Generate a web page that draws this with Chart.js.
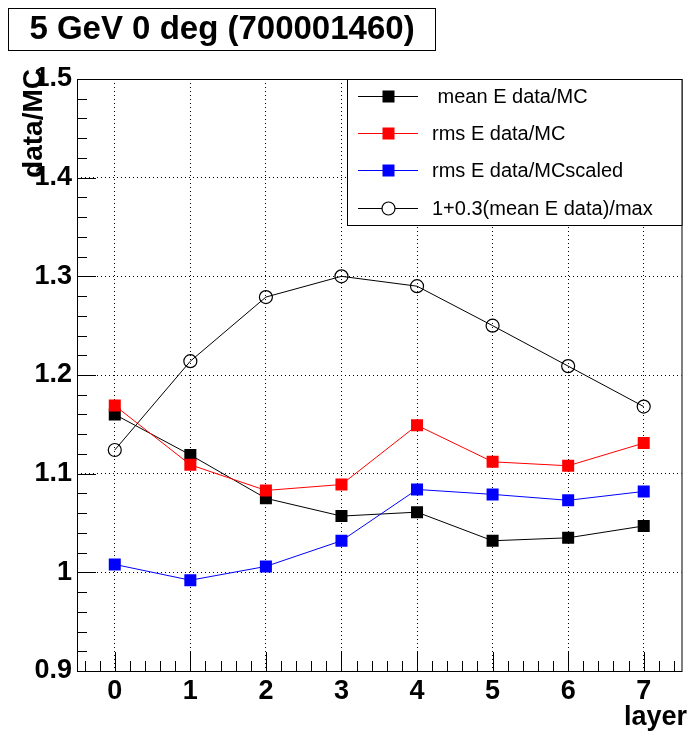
<!DOCTYPE html>
<html>
<head>
<meta charset="utf-8">
<title>5 GeV 0 deg (700001460)</title>
<script src="https://cdn.jsdelivr.net/npm/chart.js@4/dist/chart.umd.min.js"></script>
<style>
  html, body { margin: 0; padding: 0; background: #fff; }
  #plot { display: block; }
</style>
</head>
<body>
<canvas id="plot" width="690" height="731"></canvas>
<script>
'use strict';

/* ── Data ── */
const layers      = [0, 1, 2, 3, 4, 5, 6, 7];
const meanRatio   = [1.160, 1.119, 1.075, 1.057, 1.061, 1.032, 1.035, 1.047];
const rmsRatio    = [1.169, 1.109, 1.083, 1.089, 1.149, 1.112, 1.108, 1.131];
const rmsScaled   = [1.008, 0.992, 1.006, 1.032, 1.084, 1.079, 1.073, 1.082];
const meanNorm    = [1.124, 1.214, 1.279, 1.300, 1.290, 1.250, 1.209, 1.168];
const seriesNames = [' mean E data/MC', 'rms E data/MC', 'rms E data/MCscaled', '1+0.3(mean E data)/max'];
const yTickLabels = ['0.9', '1', '1.1', '1.2', '1.3', '1.4', '1.5'];

const FONT = '"Liberation Sans", Arial, Helvetica, sans-serif';

const pts = vals => layers.map((x, i) => ({ x, y: vals[i] }));

function squareSeries(label, vals, color, order) {
  return {
    label, data: pts(vals), order,
    borderColor: color, borderWidth: 1,
    pointStyle: 'rect', pointRadius: 8.5, pointBorderWidth: 0,
    pointBackgroundColor: color, pointBorderColor: color,
    marker: 'square'
  };
}

const datasets = [
  squareSeries(seriesNames[0], meanRatio, '#000000', 4),
  squareSeries(seriesNames[1], rmsRatio, '#ff0000', 3),
  squareSeries(seriesNames[2], rmsScaled, '#0000ff', 2),
  {
    label: seriesNames[3], data: pts(meanNorm), order: 1,
    borderColor: '#000000', borderWidth: 1,
    pointStyle: 'circle', pointRadius: 6.5, pointBorderWidth: 1.2,
    pointBackgroundColor: 'rgba(0,0,0,0)', pointBorderColor: '#000000',
    marker: 'circle'
  }
];

/* ── ROOT-style frame, inner ticks, titles, legend ── */
function drawMarker(ctx, ds, x, y) {
  ctx.save();
  if (ds.marker === 'square') {
    ctx.fillStyle = ds.pointBackgroundColor;
    ctx.fillRect(x - 6, y - 6, 12, 12);
  } else {
    ctx.strokeStyle = ds.pointBorderColor;
    ctx.lineWidth = 1.2;
    ctx.beginPath();
    ctx.arc(x, y, 6.5, 0, Math.PI * 2);
    ctx.fillStyle = '#fff';
    ctx.fill();
    ctx.stroke();
  }
  ctx.restore();
}

const rootDecor = {
  id: 'rootDecor',
  beforeDatasetsDraw(chart) {
    const { ctx, chartArea: a, scales: { x, y } } = chart;
    ctx.save();
    ctx.strokeStyle = '#000';
    ctx.lineWidth = 1;
    ctx.beginPath();
    // x ticks: every 0.2, major at integers
    for (let k = -2; k <= 37; k++) {
      const v = k / 5;
      const px = Math.round(x.getPixelForValue(v)) + 0.5;
      const len = k % 5 === 0 ? 19 : 10;
      ctx.moveTo(px, a.bottom);
      ctx.lineTo(px, a.bottom - len);
    }
    // y ticks: every 0.02, major at 0.1
    for (let k = 45; k <= 75; k++) {
      const v = k / 50;
      const py = Math.round(y.getPixelForValue(v)) + 0.5;
      const len = k % 5 === 0 ? 19 : 10;
      ctx.moveTo(a.left, py);
      ctx.lineTo(a.left + len, py);
    }
    ctx.stroke();
    ctx.restore();
  },
  afterDraw(chart) {
    const { ctx, chartArea: a } = chart;
    ctx.save();
    // frame
    ctx.strokeStyle = '#000';
    ctx.lineWidth = 1;
    ctx.strokeRect(a.left + 0.5, a.top + 0.5, a.right - a.left, a.bottom - a.top);

    // legend box
    const lx = 347, ly = a.top, lw = a.right - 347, lh = 146;
    ctx.fillStyle = '#fff';
    ctx.fillRect(lx + 0.5, ly + 0.5, lw, lh);
    ctx.strokeRect(lx + 0.5, ly + 0.5, lw, lh);
    ctx.font = '20px ' + FONT;
    ctx.textAlign = 'left';
    ctx.textBaseline = 'middle';
    chart.data.datasets.forEach((ds, i) => {
      const ry = Math.round(96 + i * 37.2) + 0.5;
      ctx.strokeStyle = ds.borderColor;
      ctx.beginPath();
      ctx.moveTo(358, ry);
      ctx.lineTo(418, ry);
      ctx.stroke();
      drawMarker(ctx, ds, 388.5, ry);
      ctx.fillStyle = '#000';
      ctx.fillText(ds.label, 432, ry + 1);
    });

    // title box
    ctx.strokeStyle = '#000';
    ctx.fillStyle = '#fff';
    ctx.fillRect(8.5, 8.5, 427, 42);
    ctx.strokeRect(8.5, 8.5, 427, 42);
    ctx.fillStyle = '#000';
    ctx.font = 'bold 33px ' + FONT;
    ctx.textAlign = 'center';
    ctx.textBaseline = 'middle';
    ctx.fillText('5 GeV 0 deg (700001460)', 222, 30);

    // axis titles
    ctx.font = 'bold 27px ' + FONT;
    ctx.textAlign = 'right';
    ctx.textBaseline = 'alphabetic';
    ctx.fillText('layer', 687, 725);

    ctx.save();
    ctx.translate(42, 69);
    ctx.rotate(-Math.PI / 2);
    ctx.font = 'bold 28px ' + FONT;
    ctx.textAlign = 'right';
    ctx.textBaseline = 'alphabetic';
    ctx.fillText('data/MC', 0, 0);
    ctx.restore();

    ctx.restore();
  }
};

new Chart(document.getElementById('plot'), {
  type: 'line',
  data: { datasets },
  options: {
    responsive: false,
    animation: false,
    events: [],
    layout: { padding: { top: 79, right: 1, left: 0, bottom: 0 } },
    plugins: { legend: { display: false }, tooltip: { enabled: false } },
    scales: {
      x: {
        type: 'linear', min: -0.5, max: 7.5,
        afterFit: s => { s.height = 60; },
        afterBuildTicks: s => { s.ticks = layers.map(v => ({ value: v })); },
        ticks: {
          autoSkip: false, maxRotation: 0, padding: 4,
          color: '#000', font: { family: FONT, size: 27, weight: 'bold' },
          callback: v => String(v)
        },
        grid: { color: '#000', lineWidth: 1, drawTicks: false },
        border: { display: false, dash: [1, 3] }
      },
      y: {
        type: 'linear', min: 0.9, max: 1.5,
        afterFit: s => { s.width = 77; },
        ticks: {
          stepSize: 0.1, padding: 5, color: '#000',
          font: { family: FONT, size: 27, weight: 'bold' },
          callback: v => yTickLabels.find(l => Math.abs(parseFloat(l) - v) < 1e-6) || ''
        },
        grid: { color: '#000', lineWidth: 1, drawTicks: false },
        border: { display: false, dash: [1, 3] }
      }
    }
  },
  plugins: [rootDecor]
});
</script>
</body>
</html>
